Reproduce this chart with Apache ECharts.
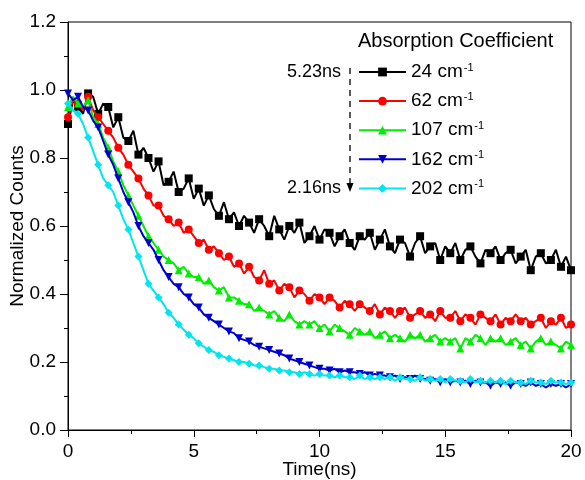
<!DOCTYPE html>
<html>
<head>
<meta charset="utf-8">
<script src="https://cdn.jsdelivr.net/npm/echarts@6/dist/echarts.min.js"></script>
<style>html,body{margin:0;padding:0;background:#fff}#c{width:585px;height:480px}</style>
</head>
<body>
<div id="c"></div>
<script>
const times = [0,0.2,0.4,0.6,0.8,1,1.2,1.4,1.6,1.8,2,2.2,2.4,2.6,2.8,3,3.2,3.4,3.6,3.8,4,4.2,4.4,4.6,4.8,5,5.2,5.4,5.6,5.8,6,6.2,6.4,6.6,6.8,7,7.2,7.4,7.6,7.8,8,8.2,8.4,8.6,8.8,9,9.2,9.4,9.6,9.8,10,10.2,10.4,10.6,10.8,11,11.2,11.4,11.6,11.8,12,12.2,12.4,12.6,12.8,13,13.2,13.4,13.6,13.8,14,14.2,14.4,14.6,14.8,15,15.2,15.4,15.6,15.8,16,16.2,16.4,16.6,16.8,17,17.2,17.4,17.6,17.8,18,18.2,18.4,18.6,18.8,19,19.2,19.4,19.6,19.8,20];

const black24 = [0.90,0.97,0.95,0.93,0.99,0.98,0.93,0.96,0.95,0.89,
  0.92,0.86,0.85,0.88,0.81,0.83,0.80,0.76,0.79,0.72,
  0.73,0.76,0.70,0.71,0.74,0.68,0.71,0.66,0.69,0.65,
  0.63,0.67,0.62,0.64,0.60,0.63,0.61,0.58,0.62,0.60,
  0.57,0.63,0.59,0.56,0.60,0.58,0.61,0.55,0.57,0.60,
  0.56,0.59,0.58,0.54,0.57,0.59,0.55,0.53,0.57,0.56,
  0.58,0.53,0.56,0.59,0.54,0.52,0.56,0.55,0.51,0.55,
  0.57,0.52,0.54,0.55,0.50,0.54,0.52,0.55,0.50,0.53,
  0.54,0.51,0.49,0.53,0.52,0.54,0.50,0.52,0.53,0.49,
  0.51,0.53,0.47,0.51,0.52,0.49,0.50,0.53,0.48,0.51,
  0.47];

const red62 = [0.92,0.97,0.96,0.94,0.98,0.94,0.92,0.90,0.88,0.86,
  0.83,0.81,0.78,0.76,0.74,0.71,0.69,0.66,0.66,0.63,
  0.62,0.60,0.61,0.58,0.59,0.57,0.55,0.56,0.53,0.54,
  0.52,0.50,0.51,0.48,0.49,0.46,0.48,0.45,0.44,0.47,
  0.43,0.44,0.41,0.43,0.42,0.39,0.41,0.40,0.38,0.40,
  0.39,0.37,0.39,0.38,0.36,0.38,0.37,0.35,0.37,0.36,
  0.35,0.37,0.34,0.36,0.35,0.33,0.35,0.36,0.33,0.34,
  0.35,0.33,0.34,0.32,0.35,0.33,0.33,0.35,0.32,0.34,
  0.33,0.31,0.34,0.33,0.32,0.34,0.31,0.33,0.32,0.34,
  0.32,0.33,0.31,0.32,0.33,0.30,0.32,0.31,0.33,0.30,
  0.31];

const green107 = [0.95,0.98,0.96,0.95,0.97,0.92,0.90,0.86,0.83,0.79,
  0.76,0.72,0.69,0.66,0.63,0.60,0.57,0.55,0.53,0.51,
  0.50,0.49,0.47,0.48,0.46,0.45,0.45,0.43,0.44,0.42,
  0.41,0.42,0.39,0.39,0.38,0.37,0.37,0.35,0.36,0.35,
  0.34,0.35,0.33,0.32,0.34,0.32,0.31,0.32,0.31,0.32,
  0.30,0.31,0.29,0.31,0.30,0.29,0.28,0.30,0.29,0.28,
  0.29,0.27,0.28,0.29,0.27,0.28,0.27,0.26,0.28,0.27,
  0.28,0.26,0.27,0.28,0.26,0.27,0.26,0.27,0.24,0.27,
  0.26,0.28,0.27,0.25,0.27,0.26,0.27,0.25,0.26,0.27,
  0.25,0.26,0.24,0.26,0.27,0.25,0.26,0.25,0.24,0.26,
  0.25];

const blue162 = [0.99,0.97,0.98,0.95,0.94,0.91,0.89,0.85,0.81,0.78,0.74,0.70,0.67,0.64,0.60,0.57,0.55,0.53,0.50,0.47,0.45,0.43,0.42,0.40,0.39,0.37,0.36,0.34,0.33,0.32,0.31,0.30,0.29,0.285,0.27,0.265,0.26,0.25,0.245,0.24,0.235,0.23,0.225,0.22,0.21,0.205,0.20,0.195,0.19,0.185,0.18,0.18,0.175,0.18,0.17,0.175,0.17,0.17,0.165,0.17,0.16,0.165,0.16,0.16,0.155,0.16,0.15,0.155,0.15,0.16,0.15,0.15,0.145,0.15,0.14,0.15,0.14,0.145,0.14,0.145,0.135,0.145,0.14,0.14,0.13,0.14,0.135,0.14,0.13,0.14,0.135,0.13,0.14,0.13,0.135,0.125,0.135,0.13,0.135,0.125,0.135];

const cyan202 = [0.96,0.94,0.93,0.90,0.86,0.82,0.78,0.74,0.72,0.70,0.66,0.62,0.59,0.55,0.51,0.47,0.43,0.41,0.39,0.37,0.345,0.33,0.31,0.295,0.28,0.27,0.255,0.245,0.235,0.23,0.22,0.215,0.21,0.205,0.20,0.20,0.195,0.19,0.19,0.185,0.18,0.18,0.175,0.175,0.17,0.17,0.165,0.17,0.165,0.16,0.165,0.16,0.16,0.155,0.16,0.155,0.155,0.15,0.16,0.15,0.155,0.15,0.155,0.15,0.155,0.145,0.155,0.15,0.15,0.145,0.155,0.145,0.15,0.145,0.15,0.14,0.15,0.145,0.145,0.14,0.15,0.14,0.145,0.14,0.145,0.14,0.145,0.135,0.145,0.14,0.14,0.135,0.145,0.14,0.14,0.135,0.145,0.14,0.14,0.135,0.14];

const seriesNames = ['24', '62', '107', '162', '202'];
const seriesData = [black24, red62, green107, blue162, cyan202];
const colors = ['#000000', '#ff0000', '#00ee00', '#0000cc', '#00e5ee'];
const symbols = ['rect', 'circle', 'triangle', 'path://M0,0 L10,0 L5,9 Z', 'diamond'];
const xTicks = [0, 5, 10, 15, 20];
const yTicks = [0, 0.2, 0.4, 0.6, 0.8, 1.0, 1.2];

const FONT = 'Liberation Sans, Arial, sans-serif';
const chart = echarts.init(document.getElementById('c'), null, {renderer: 'canvas'});

const series = seriesNames.map((n, i) => ({
  name: n,
  type: 'line',
  data: times.map((t, j) => [t, seriesData[i][j]]),
  color: colors[i],
  lineStyle: {width: 2, color: colors[i]},
  itemStyle: {color: colors[i]},
  symbol: symbols[i],
  symbolSize: (v, p) => (p.dataIndex % 2 === 0 ? 8 : 0),
  showAllSymbol: true,
  animation: false,
  z: 2 + i
}));

chart.setOption({
  animation: false,
  backgroundColor: '#fff',
  grid: {left: 68, right: 14, top: 22, bottom: 50, show: true, borderColor: '#000', borderWidth: 1,
    containLabel: false, outerBoundsMode: 'none'},
  xAxis: {
    type: 'value', min: 0, max: 20, interval: 5,
    name: 'Time(ns)', nameLocation: 'middle', nameGap: 30, nameMoveOverlap: false,
    nameTextStyle: {fontFamily: FONT, fontSize: 19, color: '#000'},
    axisLine: {lineStyle: {color: '#000', width: 1}},
    axisTick: {show: true, inside: false, length: 7, lineStyle: {color: '#000'}},
    minorTick: {show: true, splitNumber: 2, length: 4, lineStyle: {color: '#000'}},
    splitLine: {show: false},
    axisLabel: {fontFamily: FONT, fontSize: 19, color: '#000', margin: 12,
      formatter: v => xTicks.includes(v) ? String(v) : ''}
  },
  yAxis: {
    type: 'value', min: 0, max: 1.2, interval: 0.2,
    name: 'Normalized Counts', nameLocation: 'middle', nameGap: 41, nameMoveOverlap: false,
    nameTextStyle: {fontFamily: FONT, fontSize: 19, color: '#000'},
    axisLine: {show: true, lineStyle: {color: '#000', width: 1}},
    axisTick: {show: true, inside: false, length: 8, lineStyle: {color: '#000'}},
    minorTick: {show: true, splitNumber: 2, length: 4, lineStyle: {color: '#000'}},
    splitLine: {show: false},
    axisLabel: {fontFamily: FONT, fontSize: 19, color: '#000', margin: 12,
      formatter: v => { const t = yTicks.find(k => Math.abs(k - v) < 1e-9); return t === undefined ? '' : t.toFixed(1); }}
  },
  legend: {
    orient: 'vertical', left: 358, top: 62, padding: 0,
    itemWidth: 47, itemHeight: 11, itemGap: 9.6,
    data: seriesNames,
    formatter: n => '{a|' + n + ' cm}{s|-1}',
    textStyle: {
      fontFamily: FONT, fontSize: 19, color: '#000',
      rich: {
        a: {fontFamily: FONT, fontSize: 19, color: '#000', lineHeight: 20},
        s: {fontFamily: FONT, fontSize: 11, color: '#000', verticalAlign: 'top', lineHeight: 10, padding: [0, 0, 0, 1]}
      }
    }
  },
  graphic: [
    {type: 'text', left: 358, top: 31, style: {text: 'Absorption Coefficient', font: '20px ' + FONT, fill: '#000'}},
    {type: 'text', left: 287, top: 63, style: {text: '5.23ns', font: '18px ' + FONT, fill: '#000'}},
    {type: 'text', left: 287, top: 179, style: {text: '2.16ns', font: '18px ' + FONT, fill: '#000'}},
    {type: 'line', shape: {x1: 350, y1: 68, x2: 350, y2: 184}, style: {stroke: '#000', lineWidth: 1.3, lineDash: [6, 5]}},
    {type: 'polygon', shape: {points: [[346.5, 183], [353.5, 183], [350, 192]]}, style: {fill: '#000'}}
  ],
  series: series
});
</script>
</body>
</html>
